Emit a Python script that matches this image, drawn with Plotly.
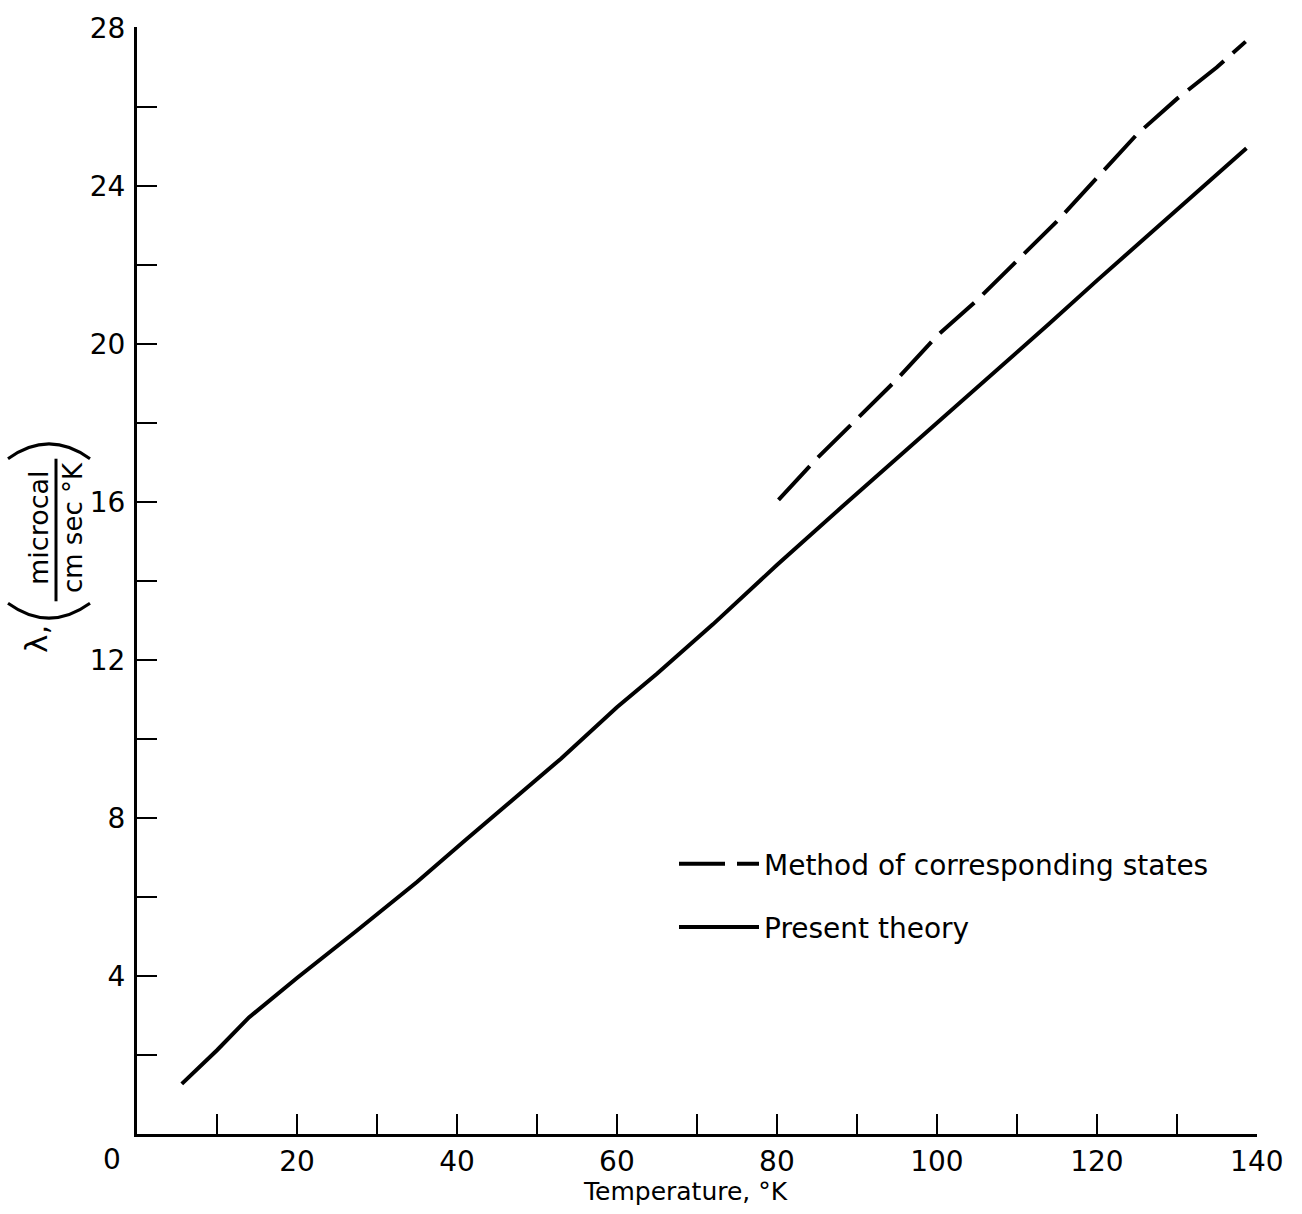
import plotly.graph_objects as go

# ---- data ----
present_T = [5.6, 10, 14, 20, 27.5, 35, 41, 47, 53, 60, 65, 72, 80, 88, 95, 100, 108, 114, 120, 129, 138.7]
present_L = [1.27, 2.12, 2.95, 3.95, 5.15, 6.38, 7.43, 8.45, 9.5, 10.8, 11.65, 12.9, 14.4, 15.85, 17.1, 18.0, 19.4, 20.5, 21.6, 23.2, 24.95]

corr_T = [80.2, 85, 90, 95, 100, 105, 110, 115, 120, 125, 130, 135, 138.6]
corr_L = [16.05, 17.1, 18.1, 19.1, 20.2, 21.1, 22.1, 23.1, 24.2, 25.3, 26.2, 27.0, 27.65]

x_tickvals = [20, 40, 60, 80, 100, 120, 140]
y_tickvals = [4, 8, 12, 16, 20, 24, 28]

FONT = "DejaVu Sans"
W, H = 1302, 1214
# plot area in page pixels
PL, PR, PT, PB = 137, 1257, 16, 1134
PW, PH = PR - PL, PB - PT
L, T = PL, PT
R, B = W - PR, H - PB

def px(xp):
    return (xp - PL) / PW

def py(yp):
    return (PB - yp) / PH

fig = go.Figure()
fig.add_trace(go.Scatter(x=corr_T, y=corr_L, mode="lines",
                         name="Method of corresponding states", legendgroup="a",
                         line=dict(color="black", width=4, dash="46px,12px")))
fig.add_trace(go.Scatter(x=present_T, y=present_L, mode="lines",
                         name="Present theory", legendgroup="b",
                         line=dict(color="black", width=4)))

fig.update_layout(
    width=W, height=H, autosize=False,
    margin=dict(l=L, r=R, t=T, b=B),
    paper_bgcolor="white", plot_bgcolor="white",
    font=dict(family=FONT, color="black"),
    showlegend=True,
    legend=dict(x=px(674), y=py(836), xanchor="left", yanchor="top",
                font=dict(size=28, family=FONT), bgcolor="rgba(0,0,0,0)",
                itemwidth=80, tracegroupgap=24,
                traceorder="grouped"),
)

fig.update_xaxes(range=[0, 140.02], showgrid=False, zeroline=False,
                 showline=True, linecolor="black", linewidth=3,
                 tickvals=x_tickvals, ticks="inside", ticklen=20, tickwidth=2,
                 tickcolor="black", tickfont=dict(size=28, family=FONT),
                 ticklabeloverflow="allow",
                 minor=dict(dtick=10, ticks="inside", ticklen=20, tickwidth=2, tickcolor="black"),
                 title=dict(text=""))
fig.update_yaxes(range=[0, 28.02], showgrid=False, zeroline=False,
                 showline=True, linecolor="black", linewidth=3,
                 tickvals=y_tickvals, ticks="inside", ticklen=20, tickwidth=2,
                 tickcolor="black", tickfont=dict(size=28, family=FONT),
                 ticklabeloverflow="allow", ticklabelstandoff=3,
                 minor=dict(dtick=2, ticks="inside", ticklen=20, tickwidth=2, tickcolor="black"),
                 title=dict(text=""))

# x-axis title
fig.add_annotation(xref="paper", yref="paper", x=px(685), y=py(1192), text="Temperature, °K",
                   showarrow=False, font=dict(size=25, family=FONT), xanchor="center", yanchor="middle")

# origin label
fig.add_annotation(xref="paper", yref="paper", x=px(112), y=py(1160), text="0",
                   showarrow=False, font=dict(size=28, family=FONT), xanchor="center", yanchor="middle")

# y-axis label: λ, ( microcal / cm sec °K )
fig.add_annotation(xref="paper", yref="paper", x=px(36), y=py(634), text="λ,",
                   textangle=-90, showarrow=False, font=dict(size=31, family=FONT),
                   xanchor="center", yanchor="middle")
fig.add_annotation(xref="paper", yref="paper", x=px(38), y=py(522), text="microcal",
                   textangle=-90, showarrow=False, font=dict(size=27, family=FONT),
                   xanchor="center", yanchor="middle")
fig.add_annotation(xref="paper", yref="paper", x=px(73), y=py(522), text="cm sec °K",
                   textangle=-90, showarrow=False, font=dict(size=26, family=FONT),
                   xanchor="center", yanchor="middle")
fig.add_shape(type="line", xref="paper", yref="paper",
              x0=px(56), x1=px(56), y0=py(452), y1=py(596),
              line=dict(color="black", width=3))
# parentheses
fig.add_shape(type="path", xref="paper", yref="paper",
              path=f"M {px(8)},{py(598)} Q {px(49)},{py(628)} {px(90)},{py(598)}",
              line=dict(color="black", width=3))
fig.add_shape(type="path", xref="paper", yref="paper",
              path=f"M {px(8)},{py(452)} Q {px(49)},{py(422)} {px(90)},{py(452)}",
              line=dict(color="black", width=3))

fig.write_html("out.html", config={"displayModeBar": False},
               post_script="document.body.style.margin='0';document.body.style.overflow='hidden';")
